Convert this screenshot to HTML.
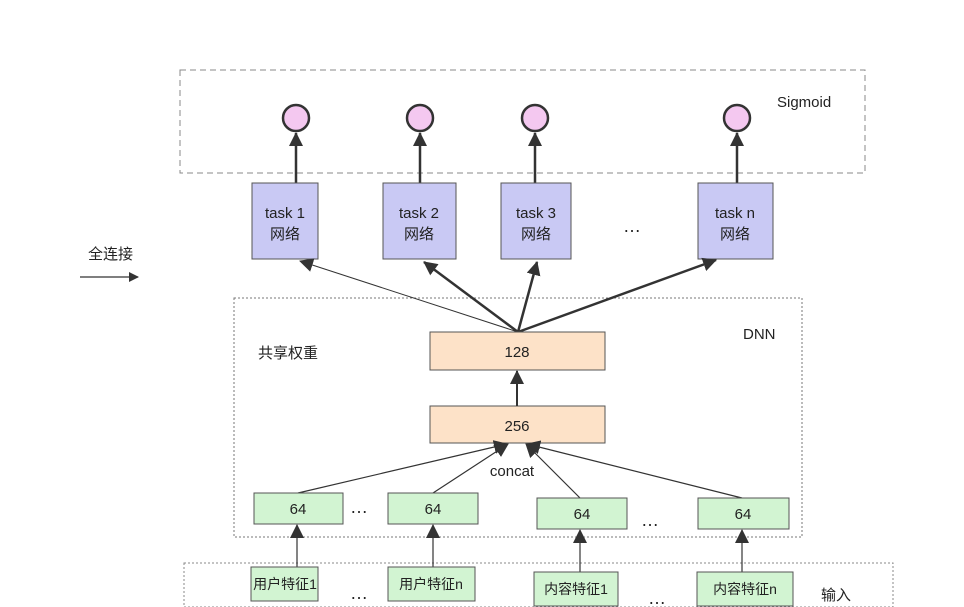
<!DOCTYPE html>
<html><head><meta charset="utf-8"><style>
html,body{margin:0;padding:0;background:#fff;}
svg{display:block;}
text{font-family:"Liberation Sans","Noto Sans CJK SC",sans-serif;fill:#222;}
</style></head><body>
<svg width="964" height="607" viewBox="0 0 964 607" xmlns="http://www.w3.org/2000/svg">
<defs>
<marker id="a" markerWidth="10" markerHeight="10" refX="9" refY="5" orient="auto" markerUnits="userSpaceOnUse"><path d="M0,0 L10,5 L0,10 z" fill="#333"/></marker>
<marker id="b" markerWidth="14" markerHeight="14" refX="13" refY="7" orient="auto" markerUnits="userSpaceOnUse"><path d="M0,0 L14,7 L0,14 z" fill="#333"/></marker>
</defs>
<!-- top dashed box -->
<rect x="180" y="70" width="685" height="103" fill="none" stroke="#888" stroke-dasharray="6,4"/>
<text x="777" y="107" font-size="15">Sigmoid</text>
<g fill="#f4c8f0" stroke="#333" stroke-width="2.5">
<circle cx="296" cy="118" r="13"/><circle cx="420" cy="118" r="13"/><circle cx="535" cy="118" r="13"/><circle cx="737" cy="118" r="13"/>
</g>
<g stroke="#333" stroke-width="2.5" marker-end="url(#b)">
<line x1="296" y1="183" x2="296" y2="133"/><line x1="420" y1="183" x2="420" y2="133"/><line x1="535" y1="183" x2="535" y2="133"/><line x1="737" y1="183" x2="737" y2="133"/>
</g>
<!-- task boxes -->
<g fill="#c9c9f4" stroke="#555">
<rect x="252" y="183" width="66" height="76"/><rect x="383" y="183" width="73" height="76"/><rect x="501" y="183" width="70" height="76"/><rect x="698" y="183" width="75" height="76"/>
</g>
<g font-size="15" text-anchor="middle">
<text x="285" y="218">task 1</text><text x="285" y="239">网络</text>
<text x="419" y="218">task 2</text><text x="419" y="239">网络</text>
<text x="536" y="218">task 3</text><text x="536" y="239">网络</text>
<text x="735" y="218">task n</text><text x="735" y="239">网络</text>
</g>
<text x="623" y="232" font-size="18">…</text>
<text x="88" y="259" font-size="15">全连接</text>
<line x1="80" y1="277" x2="138" y2="277" stroke="#333" stroke-width="1.2" marker-end="url(#a)"/>
<!-- DNN box -->
<rect x="234" y="298" width="568" height="239" fill="none" stroke="#777" stroke-dasharray="2,2"/>
<text x="743" y="339" font-size="15">DNN</text>
<text x="258" y="358" font-size="15">共享权重</text>
<!-- fan arrows -->
<line x1="518" y1="332" x2="300" y2="261" stroke="#333" stroke-width="1" marker-end="url(#b)"/>
<line x1="518" y1="332" x2="424" y2="262" stroke="#333" stroke-width="2.5" marker-end="url(#b)"/>
<line x1="518" y1="332" x2="537" y2="262" stroke="#333" stroke-width="2.5" marker-end="url(#b)"/>
<line x1="518" y1="332" x2="716" y2="260" stroke="#333" stroke-width="2.5" marker-end="url(#b)"/>
<g fill="#fde2c8" stroke="#555">
<rect x="430" y="332" width="175" height="38"/><rect x="430" y="406" width="175" height="37"/>
</g>
<text x="517" y="357" font-size="15" text-anchor="middle">128</text>
<text x="517" y="431" font-size="15" text-anchor="middle">256</text>
<line x1="517" y1="406" x2="517" y2="371" stroke="#333" stroke-width="2" marker-end="url(#b)"/>
<!-- concat lines -->
<g stroke="#333" stroke-width="1.2" marker-end="url(#b)">
<line x1="298" y1="493" x2="507" y2="444"/><line x1="433" y1="493" x2="508" y2="444"/>
<line x1="580" y1="498" x2="526" y2="444"/><line x1="742" y1="498" x2="527" y2="444"/>
</g>
<text x="512" y="476" font-size="15" text-anchor="middle">concat</text>
<g fill="#d2f4d2" stroke="#555">
<rect x="254" y="493" width="89" height="31"/><rect x="388" y="493" width="90" height="31"/>
<rect x="537" y="498" width="90" height="31"/><rect x="698" y="498" width="91" height="31"/>
</g>
<g font-size="15" text-anchor="middle">
<text x="298" y="514">64</text><text x="433" y="514">64</text><text x="582" y="519">64</text><text x="743" y="519">64</text>
</g>
<text x="350" y="513" font-size="18">…</text>
<text x="641" y="526" font-size="18">…</text>
<!-- input box -->
<rect x="184" y="563" width="709" height="44" fill="none" stroke="#888" stroke-dasharray="2,2"/>
<g stroke="#333" stroke-width="1.2" marker-end="url(#b)">
<line x1="297" y1="567" x2="297" y2="525"/><line x1="433" y1="567" x2="433" y2="525"/>
<line x1="580" y1="572" x2="580" y2="530"/><line x1="742" y1="572" x2="742" y2="530"/>
</g>
<g fill="#d2f4d2" stroke="#555">
<rect x="251" y="567" width="67" height="34"/><rect x="388" y="567" width="87" height="34"/>
<rect x="534" y="572" width="84" height="34"/><rect x="697" y="572" width="96" height="34"/>
</g>
<g font-size="14" text-anchor="middle">
<text x="285" y="589">用户特征1</text><text x="431" y="589">用户特征n</text>
<text x="576" y="594">内容特征1</text><text x="745" y="594">内容特征n</text>
</g>
<text x="350" y="599" font-size="18">…</text>
<text x="648" y="604" font-size="18">…</text>
<text x="821" y="600" font-size="15">输入</text>
</svg>
</body></html>
